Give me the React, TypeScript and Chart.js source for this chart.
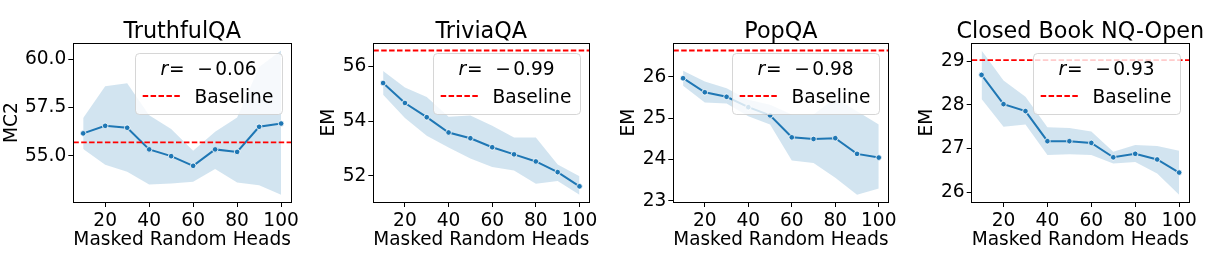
import React, { useEffect, useRef } from "react";
import { Chart, registerables } from "chart.js";

Chart.register(...registerables);

const FONT = '"DejaVu Sans", sans-serif';
const FS = 18.6;
const TITLE_FS = 22.3;

// ---- data ----
const heads = [10, 20, 30, 40, 50, 60, 70, 80, 90, 100];
const xTicks = [20, 40, 60, 80, 100];

const truthfulMean = [56.16, 56.55, 56.45, 55.33, 54.98, 54.48, 55.33, 55.2, 56.5, 56.67];
const truthfulUpper = [56.95, 58.6, 58.75, 57.1, 56.38, 55.26, 56.24, 56.98, 59.6, 60.45];
const truthfulLower = [55.35, 54.53, 54.17, 53.51, 53.56, 53.65, 54.31, 53.62, 53.48, 52.98];
const truthfulBaseline = 55.69;
const truthfulR = -0.06;
const truthfulTicks = [55, 57.5, 60];

const triviaMean = [55.4, 54.67, 54.15, 53.59, 53.38, 53.05, 52.79, 52.53, 52.14, 51.62];
const triviaUpper = [55.84, 55.24, 54.89, 54.17, 54.21, 53.84, 53.41, 53.41, 52.42, 51.99];
const triviaLower = [54.97, 54.12, 53.47, 53.04, 52.64, 52.33, 52.2, 51.71, 51.81, 51.31];
const triviaBaseline = 56.59;
const triviaR = -0.99;
const triviaTicks = [52, 54, 56];

const popMean = [25.97, 25.63, 25.52, 25.27, 25.07, 24.54, 24.5, 24.52, 24.14, 24.05];
const popUpper = [26.15, 25.89, 25.73, 25.45, 25.33, 25.09, 25.09, 25.49, 25.17, 24.85];
const popLower = [25.79, 25.38, 25.36, 25.05, 24.85, 23.98, 23.92, 23.56, 23.15, 23.3];
const popBaseline = 26.64;
const popR = -0.98;
const popTicks = [23, 24, 25, 26];

const nqMean = [28.69, 28.02, 27.86, 27.17, 27.17, 27.13, 26.8, 26.88, 26.75, 26.45];
const nqUpper = [29.25, 28.56, 28.19, 27.49, 27.47, 27.39, 26.93, 27.08, 27.06, 26.95];
const nqLower = [28.14, 27.5, 27.55, 26.85, 26.87, 26.85, 26.66, 26.69, 26.43, 25.94];
const nqBaseline = 29.03;
const nqR = -0.93;
const nqTicks = [26, 27, 28, 29];

// ---- panels (layout kept apart from data) ----
type Panel = {
  title: string; yLabel: string; mean: number[]; upper: number[]; lower: number[];
  baseline: number; r: number; yTicks: number[]; decimals: number;
  L: number; W: number; left: number; right: number; pl: number;
};

const panels: Panel[] = [
  { title: "TruthfulQA", yLabel: "MC2", mean: truthfulMean, upper: truthfulUpper, lower: truthfulLower,
    baseline: truthfulBaseline, r: truthfulR, yTicks: truthfulTicks, decimals: 1,
    L: 0, W: 305, left: 73.3, right: 291, pl: 0.8 },
  { title: "TriviaQA", yLabel: "EM", mean: triviaMean, upper: triviaUpper, lower: triviaLower,
    baseline: triviaBaseline, r: triviaR, yTicks: triviaTicks, decimals: 0,
    L: 305, W: 300, left: 373.3, right: 589.3, pl: 13 },
  { title: "PopQA", yLabel: "EM", mean: popMean, upper: popUpper, lower: popLower,
    baseline: popBaseline, r: popR, yTicks: popTicks, decimals: 0,
    L: 605, W: 295, left: 673.3, right: 889.3, pl: 12.7 },
  { title: "Closed Book NQ-Open", yLabel: "EM", mean: nqMean, upper: nqUpper, lower: nqLower,
    baseline: nqBaseline, r: nqR, yTicks: nqTicks, decimals: 0,
    L: 900, W: 318, left: 971.7, right: 1189, pl: 16.4 },
];

const H = 271;
const AREA_TOP = 43.3;
const AREA_BOTTOM = 202;
const PAD_BOTTOM = 19.2;

function panelPlugin(p: Panel) {
  return {
    id: "panelDeco",
    afterDatasetsDraw(chart: any) {
      const { ctx, chartArea: a } = chart;
      ctx.save();
      // spines
      ctx.strokeStyle = "#000";
      ctx.lineWidth = 1;
      ctx.setLineDash([]);
      const x0 = Math.floor(a.left) + 0.5, x1 = Math.floor(a.right) + 0.5;
      const y0 = Math.floor(a.top) + 0.5, y1 = Math.floor(a.bottom) + 0.5;
      ctx.strokeRect(x0, y0, x1 - x0, y1 - y0);

      // legend
      const lw = 147, lh = 61;
      const lx = Math.round(a.right - 9.5 - lw), ly = Math.round(a.top + 9.5);
      ctx.beginPath();
      ctx.roundRect(lx + 0.5, ly + 0.5, lw, lh, 4);
      ctx.fillStyle = "rgba(255,255,255,0.8)";
      ctx.fill();
      ctx.strokeStyle = "rgba(204,204,204,0.8)";
      ctx.lineWidth = 1;
      ctx.stroke();

      ctx.fillStyle = "#000";
      ctx.textBaseline = "alphabetic";
      ctx.textAlign = "left";
      const value = Math.abs(p.r).toFixed(2);
      ctx.font = `italic ${FS}px ${FONT}`;
      const wr = ctx.measureText("r").width;
      ctx.font = `${FS}px ${FONT}`;
      const weq = ctx.measureText("=").width;
      const wm = ctx.measureText("\u2212").width;
      const wv = ctx.measureText(value).width;
      const g0 = 1, g1 = 12.5, g2 = 2.4;
      const total = wr + g0 + weq + g1 + wm + g2 + wv;
      let tx = lx + lw / 2 - total / 2;
      const tby = ly + 21.5;
      ctx.font = `italic ${FS}px ${FONT}`;
      ctx.fillText("r", tx, tby);
      tx += wr + g0;
      ctx.font = `${FS}px ${FONT}`;
      ctx.fillText("=", tx, tby);
      tx += weq + g1;
      ctx.fillText(p.r < 0 ? "\u2212" : "", tx, tby);
      tx += wm + g2;
      ctx.fillText(value, tx, tby);

      ctx.strokeStyle = "#ff0000";
      ctx.lineWidth = 1.8;
      ctx.setLineDash([5.5, 2.4]);
      ctx.beginPath();
      ctx.moveTo(lx + 7.7, ly + 43);
      ctx.lineTo(lx + 45.3, ly + 43);
      ctx.stroke();
      ctx.setLineDash([]);
      ctx.fillText("Baseline", lx + 59.5, ly + 49.8);
      ctx.restore();
    },
    afterDraw(chart: any) {
      const { ctx, chartArea: a } = chart;
      ctx.save();
      ctx.fillStyle = "#000";
      ctx.font = `${TITLE_FS}px ${FONT}`;
      ctx.textAlign = "center";
      ctx.textBaseline = "alphabetic";
      ctx.fillText(p.title, (a.left + a.right) / 2, 37.5);
      ctx.restore();
    },
  };
}

function PanelChart({ p }: { p: Panel }) {
  const ref = useRef<HTMLCanvasElement | null>(null);
  useEffect(() => {
    if (!ref.current) return;
    const xMin = heads[0] - 0.05 * (heads[heads.length - 1] - heads[0]);
    const xMax = heads[heads.length - 1] + 0.05 * (heads[heads.length - 1] - heads[0]);
    const lo = Math.min(...p.lower, p.baseline);
    const hi = Math.max(...p.upper, p.baseline);
    const yMin = lo - 0.05 * (hi - lo);
    const yMax = hi + 0.05 * (hi - lo);
    const yAxisW = p.left - p.L - p.pl;
    const xAxisH = H - PAD_BOTTOM - AREA_BOTTOM;
    const tickFont = { size: FS, family: FONT };

    const chart = new Chart(ref.current, {
      type: "line",
      data: {
        datasets: [
          {
            label: "Baseline",
            data: [{ x: xMin, y: p.baseline }, { x: xMax, y: p.baseline }],
            borderColor: "#ff0000",
            borderDash: [5.5, 2.4],
            borderWidth: 1.8,
            pointRadius: 0,
            fill: false,
          },
          {
            label: "mean",
            data: heads.map((h, i) => ({ x: h, y: p.mean[i] })),
            borderColor: "#1f77b4",
            borderWidth: 2,
            pointRadius: 2.8,
            pointBackgroundColor: "#1f77b4",
            pointBorderColor: "#ffffff",
            pointBorderWidth: 0.8,
            fill: false,
          },
          {
            label: "upper",
            data: heads.map((h, i) => ({ x: h, y: p.upper[i] })),
            borderColor: "transparent",
            borderWidth: 0,
            pointRadius: 0,
            fill: false,
          },
          {
            label: "lower",
            data: heads.map((h, i) => ({ x: h, y: p.lower[i] })),
            borderColor: "transparent",
            borderWidth: 0,
            pointRadius: 0,
            fill: "-1",
            backgroundColor: "rgba(31,119,180,0.2)",
          },
        ],
      },
      options: {
        responsive: false,
        animation: false,
        devicePixelRatio: 1,
        layout: {
          padding: {
            left: p.pl,
            right: p.W - (p.right - p.L),
            top: AREA_TOP,
            bottom: PAD_BOTTOM,
          },
        },
        plugins: {
          legend: { display: false },
          tooltip: { enabled: false },
          title: { display: false },
        },
        scales: {
          x: {
            type: "linear",
            min: xMin,
            max: xMax,
            afterBuildTicks: (s: any) => {
              s.ticks = xTicks.map((v) => ({ value: v }));
            },
            afterFit: (s: any) => {
              s.height = xAxisH;
            },
            ticks: {
              font: tickFont,
              color: "#000",
              padding: 3,
              maxRotation: 0,
              minRotation: 0,
              autoSkip: false,
              callback: (v: any) => String(v),
            },
            grid: { display: true, drawOnChartArea: false, drawTicks: true, tickLength: 5, color: "#000", lineWidth: 1 },
            border: { display: false },
            title: { display: true, text: "Masked Random Heads", font: tickFont, color: "#000", padding: { top: 0, bottom: 0 } },
          },
          y: {
            type: "linear",
            min: yMin,
            max: yMax,
            afterBuildTicks: (s: any) => {
              s.ticks = p.yTicks.map((v) => ({ value: v }));
            },
            afterFit: (s: any) => {
              s.width = yAxisW;
            },
            ticks: {
              font: tickFont,
              color: "#000",
              padding: 2,
              autoSkip: false,
              callback: (v: any) => Number(v).toFixed(p.decimals),
            },
            grid: { display: true, drawOnChartArea: false, drawTicks: true, tickLength: 5, color: "#000", lineWidth: 1 },
            border: { display: false },
            title: { display: true, text: p.yLabel, font: tickFont, color: "#000", padding: { top: 0, bottom: 0 } },
          },
        },
      },
      plugins: [panelPlugin(p)],
    } as any);
    return () => chart.destroy();
  }, [p]);
  return (
    <canvas
      ref={ref}
      width={p.W}
      height={H}
      style={{ position: "absolute", left: p.L, top: 0, width: p.W, height: H }}
    />
  );
}

export default function App() {
  return (
    <div style={{ position: "absolute", left: 0, top: 0, width: 1218, height: H, background: "#fff", overflow: "hidden" }}>
      {panels.map((p) => (
        <PanelChart key={p.title} p={p} />
      ))}
    </div>
  );
}
